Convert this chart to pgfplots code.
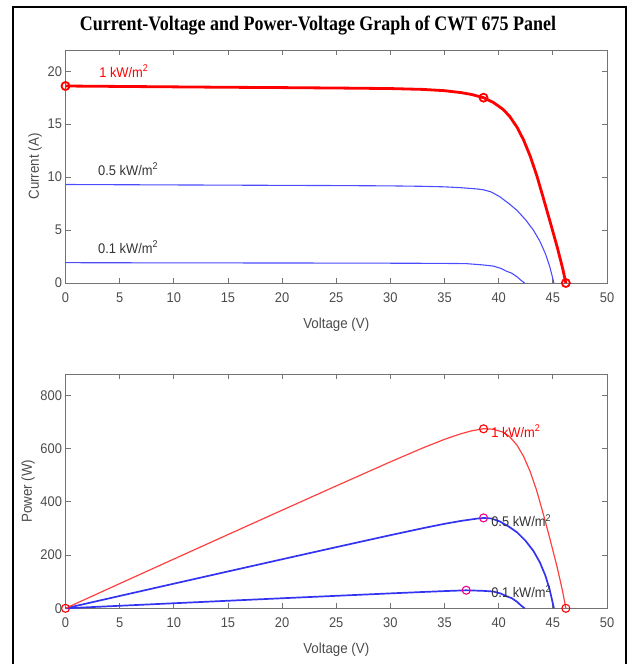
\documentclass[border=0pt]{standalone}
\usepackage{fontspec}
\setmainfont{Liberation Sans}[FakeStretch=0.92]
\newfontfamily\titlefont{Liberation Serif}
\usepackage{graphicx}
\usepackage{pgfplots}
\pgfplotsset{compat=1.18}

\definecolor{axgray}{rgb}{0.45,0.45,0.45}
\definecolor{txtgray}{rgb}{0.3,0.3,0.3}
\definecolor{lblgray}{rgb}{0.2,0.2,0.2}
\definecolor{ivblue}{rgb}{0.3,0.3,1}
\definecolor{pblue}{rgb}{0.2,0.2,0.95}
\definecolor{pred}{rgb}{1,0.25,0.25}

\pgfplotsset{
  mystyle/.style={
    scale only axis, width=541.5bp,
    xmin=0, xmax=50, xtick={0,5,...,50},
    axis line style={axgray, line width=0.9bp},
    tick style={axgray, line width=0.9bp},
    tick align=inside, major tick length=5bp,
    xtick pos=both, ytick pos=both,
    xticklabel pos=bottom, yticklabel pos=left,
    ticklabel style={font=\fontsize{14bp}{16bp}\selectfont, text=txtgray},
    xticklabel style={yshift=-6bp},
    /pgf/number format/assume math mode=true,
    /pgf/number format/1000 sep={},
    label style={font=\fontsize{14.5bp}{17bp}\selectfont, text=txtgray},
    scaled ticks=false,
    clip=false,
  }
}

\begin{document}
\begin{tikzpicture}
\path[use as bounding box] (0bp,0bp) rectangle (629bp,-664bp);
\draw[black, line width=2bp] (13bp,-7bp) rectangle (626bp,-690bp);
\node[anchor=base, inner sep=0] at (318bp,-30bp) {\resizebox{476bp}{14.5bp}{\titlefont\bfseries Current-Voltage and Power-Voltage Graph of CWT 675 Panel}};

% ---------------- I-V ----------------
\begin{axis}[mystyle, at={(65.5bp,-283bp)}, anchor=south west, height=233bp,
  ymin=0, ymax=22, ytick={0,5,...,20},
  xlabel={Voltage (V)}, ylabel={Current (A)},
  xlabel style={at={(axis description cs:0.5,-0.18)}, anchor=center},
  ylabel style={at={(axis description cs:-0.056,0.5)}, anchor=center},
]
\addplot[ivblue, line width=1.1bp] table {
0 1.92
10 1.90
20 1.89
30 1.87
33 1.86
35 1.85
37 1.83
38.5 1.71
39.5 1.60
40.2 1.38
40.7 1.12
41.2 0.93
41.7 0.58
42.1 0.22
42.4 0
};
\addplot[ivblue, line width=1.1bp] table {
0 9.30
5 9.28
10 9.26
15 9.24
20 9.22
25 9.20
30 9.17
33 9.13
35 9.08
36.5 9.00
38.0 8.88
38.6 8.80
39.3 8.60
40.1 8.15
41.0 7.45
41.7 6.85
42.5 5.95
43.2 5.00
43.8 3.95
44.3 2.80
44.7 1.60
45.1 0
};
\addplot[red, line width=2.8bp] table {
0 18.60
5 18.56
10 18.52
15 18.48
20 18.45
25 18.41
30 18.36
33 18.28
35 18.16
36.5 17.98
37.5 17.80
38.6 17.50
39.5 17.05
40.4 16.40
41.0 15.75
41.7 14.70
42.3 13.50
42.9 12.00
43.5 10.20
44.1 8.10
44.7 5.95
45.4 3.40
45.9 1.40
46.2 0
};
\addplot[only marks, mark=o, mark size=4bp, red, mark options={line width=1.8bp}] coordinates {(0,18.6) (38.6,17.5) (46.2,0)};
\node[anchor=west, inner sep=0, text=red, font=\fontsize{14bp}{16bp}\selectfont] at (axis cs:3.1,20.0) {1 kW/m\textsuperscript{2}};
\node[anchor=west, inner sep=0, text=lblgray, font=\fontsize{14bp}{16bp}\selectfont] at (axis cs:3.0,10.76) {0.5 kW/m\textsuperscript{2}};
\node[anchor=west, inner sep=0, text=lblgray, font=\fontsize{14bp}{16bp}\selectfont] at (axis cs:3.0,3.39) {0.1 kW/m\textsuperscript{2}};
\end{axis}

% ---------------- P-V ----------------
\begin{axis}[mystyle, at={(65.5bp,-608.3bp)}, anchor=south west, height=234bp,
  ymin=0, ymax=880, ytick={0,200,...,800},
  xlabel={Voltage (V)}, ylabel={Power (W)},
  xlabel style={at={(axis description cs:0.5,-0.178)}, anchor=center},
  ylabel style={at={(axis description cs:-0.069,0.5)}, anchor=center},
]
\addplot[pblue, line width=1.7bp] table {
0 0
10 19.0
20 37.8
30 56.1
33 61.4
35 64.8
37 67.7
38.5 65.8
39.5 63.2
40.2 55.5
40.7 45.6
41.2 38.3
41.7 24.2
42.1 9.3
42.4 0
};
\addplot[pblue, line width=1.7bp] table {
0 0
5 46.4
10 92.6
15 138.6
20 184.4
25 230.0
30 275.1
33 301.3
35 317.8
36.5 328.5
38.0 337.4
38.6 339.7
39.3 338.0
40.1 326.8
41.0 305.5
41.7 285.6
42.5 252.9
43.2 216.0
43.8 173.0
44.3 124.0
44.7 71.5
45.1 0
};
\addplot[pred, line width=1.2bp] table {
0 0
5 92.8
10 185.2
15 277.2
20 369.0
25 460.3
30 550.8
33 603.2
35 635.6
36.5 656.3
37.5 667.5
38.6 675.5
39.5 673.5
40.4 662.6
41.0 645.8
41.7 613.0
42.3 571.1
42.9 514.8
43.5 443.7
44.1 357.2
44.7 266.0
45.4 154.4
45.9 64.3
46.2 0
};
\addplot[only marks, mark=o, mark size=4bp, red, mark options={line width=1.1bp}] coordinates {(0,0) (38.6,675) (46.2,0)};
\addplot[only marks, mark=o, mark size=4bp, magenta, mark options={line width=1.1bp}] coordinates {(38.6,340) (37,68)};
\node[anchor=west, inner sep=0, text=red, font=\fontsize{14bp}{16bp}\selectfont] at (axis cs:39.3,666) {1 kW/m\textsuperscript{2}};
\node[anchor=west, inner sep=0, text=lblgray, font=\fontsize{14bp}{16bp}\selectfont] at (axis cs:39.3,330) {0.5 kW/m\textsuperscript{2}};
\node[anchor=west, inner sep=0, text=lblgray, font=\fontsize{14bp}{16bp}\selectfont] at (axis cs:39.3,62) {0.1 kW/m\textsuperscript{2}};
\end{axis}
\end{tikzpicture}
\end{document}
